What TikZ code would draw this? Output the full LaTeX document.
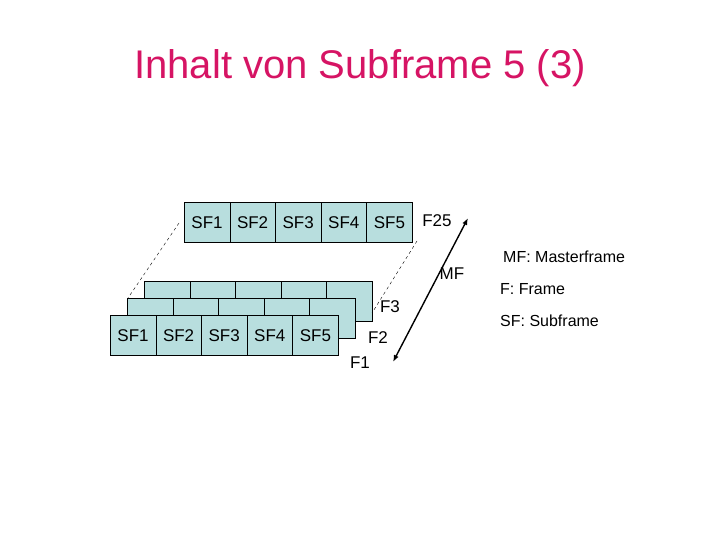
\documentclass[tikz,border=0pt]{standalone}
\usepackage{fontspec}
\setmainfont{Liberation Sans}
\usetikzlibrary{arrows.meta,positioning}
\definecolor{sfcyan}{RGB}{184,222,222}
\definecolor{titlepink}{RGB}{214,20,100}
\tikzset{
    sfbox/.style={draw, fill=sfcyan, minimum width=45.6pt, minimum height=40pt, inner sep=0pt, anchor=north west, font=\fontsize{17}{17}\selectfont},
    lbl/.style={font=\fontsize{17}{17}\selectfont, inner sep=0pt},
    lgd/.style={font=\fontsize{16}{16}\selectfont, inner sep=0pt, anchor=west}
}
\begin{document}
\begin{tikzpicture}[x=1pt,y=-1pt]
    \useasboundingbox (0,0) rectangle (720,540);
    \node[font=\fontsize{40}{40}\selectfont, text=titlepink] (title) at (360,68) {Inhalt von Subframe 5 (3)};
    % back frames
    \foreach \s in {0,...,4}{
    \node[sfbox] (c\s) at ({144+45.6*\s},281) {};}
    \foreach \s in {0,...,4}{
    \node[sfbox] (b\s) at ({127+45.6*\s},298) {};}
    \foreach \s [count=\i] in {0,...,4}{
    \node[sfbox] (a\s) at ({110+45.6*\s},315) {SF\i};}
    % top frame
    \foreach \s [count=\i] in {0,...,4}{
    \node[sfbox] (t\s) at ({184+45.6*\s},202) {SF\i};}
    \coordinate (dl1) at (179,223);
    \coordinate (dl2) at (128,298);
    \coordinate (dr1) at (417,241);
    \coordinate (dr2) at (372,313);
    \draw[dashed, thin] (dl1) -- (dl2);
    \draw[dashed, thin] (dr1) -- (dr2);
    \node[lbl] (f25) at (437,221) {F25};
    \node[lbl] (mf) at (452,274) {MF};
    \node[lbl] (f3) at (390,307) {F3};
    \node[lbl] (f2) at (378,338) {F2};
    \node[lbl] (f1) at (360,363) {F1};
    \coordinate (ar1) at (468,218);
    \coordinate (ar2) at (393,362);
    \draw[line width=1.4pt, {Latex[length=7pt]}-{Latex[length=7pt]}] (ar2) -- (ar1);
    \node[lgd] (lmf) at (503,257) {MF: Masterframe};
    \node[lgd] (lf) at (500,289) {F: Frame};
    \node[lgd] (lsf) at (500,321) {SF: Subframe};
\end{tikzpicture}
\end{document}
